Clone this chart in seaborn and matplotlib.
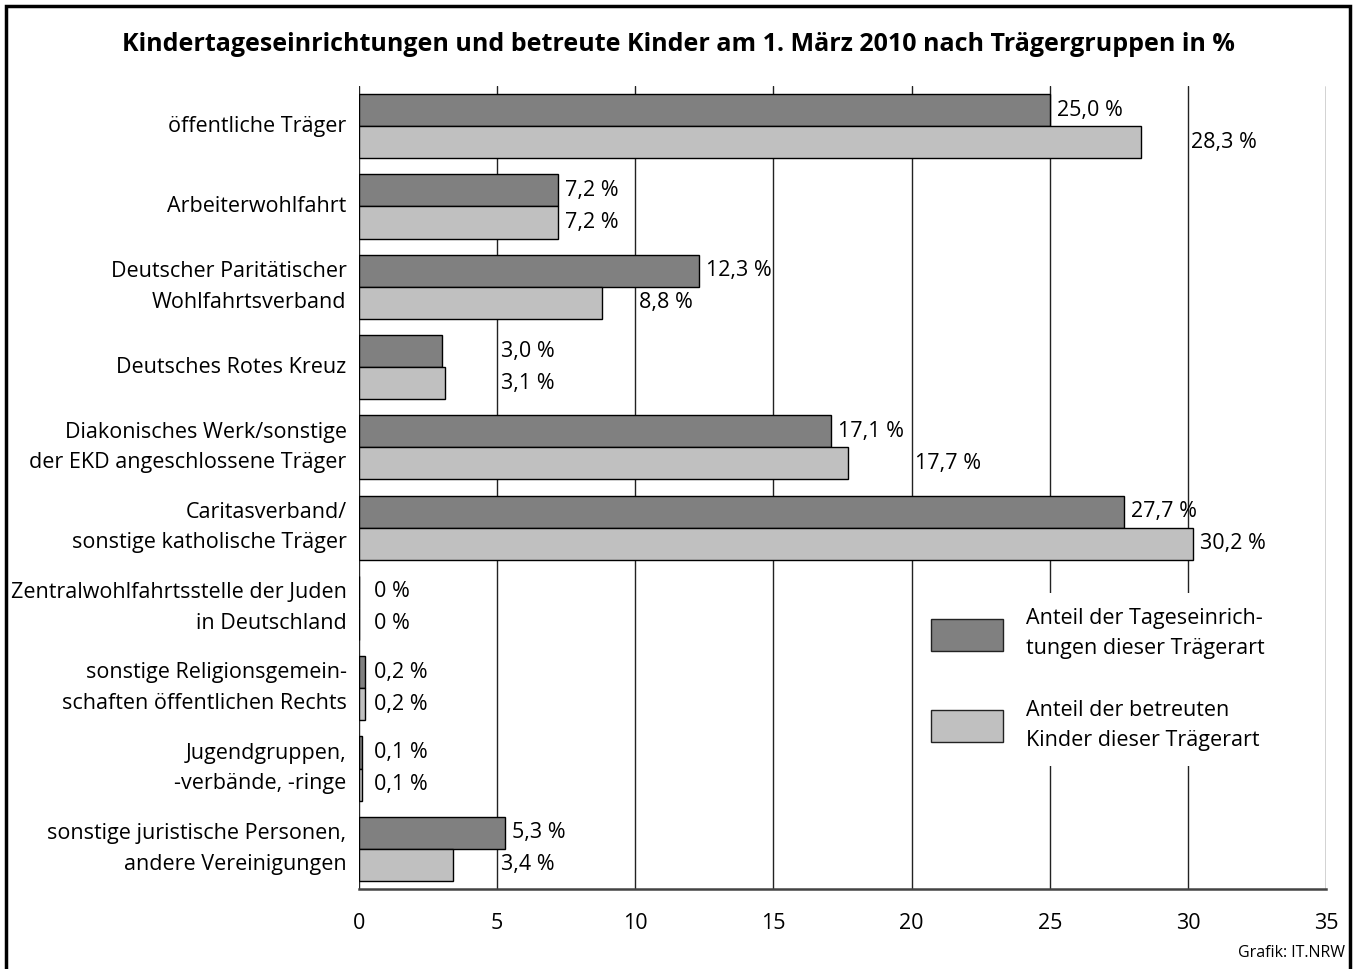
import pandas as pd
import matplotlib.pyplot as plt
import seaborn as sns

# Daten: Anteile nach Traegergruppen (1. Maerz 2010)
traeger = [
    "öffentliche Träger",
    "Arbeiterwohlfahrt",
    "Deutscher Paritätischer\nWohlfahrtsverband",
    "Deutsches Rotes Kreuz",
    "Diakonisches Werk/sonstige\nder EKD angeschlossene Träger",
    "Caritasverband/\nsonstige katholische Träger",
    "Zentralwohlfahrtsstelle der Juden\nin Deutschland",
    "sonstige Religionsgemein-\nschaften öffentlichen Rechts",
    "Jugendgruppen,\n-verbände, -ringe",
    "sonstige juristische Personen,\nandere Vereinigungen",
]
einrichtungen = [25.0, 7.2, 12.3, 3.0, 17.1, 27.7, 0.0, 0.2, 0.1, 5.3]
kinder = [28.3, 7.2, 8.8, 3.1, 17.7, 30.2, 0.0, 0.2, 0.1, 3.4]
reihen = ["Anteil der Tageseinrich-\ntungen dieser Trägerart",
          "Anteil der betreuten\nKinder dieser Trägerart"]
x_ticks = [0, 5, 10, 15, 20, 25, 30, 35]

df = pd.DataFrame({
    "traeger": traeger * 2,
    "wert": einrichtungen + kinder,
    "reihe": [reihen[0]] * len(traeger) + [reihen[1]] * len(traeger),
})

sns.set_theme(style="white")
plt.rcParams['font.family'] = ['Open Sans', 'DejaVu Sans']
plt.rcParams['text.color'] = 'black'
plt.rcParams['xtick.color'] = 'black'
plt.rcParams['ytick.color'] = 'black'

FS = 15.5
fig = plt.figure(figsize=(13.56, 9.69), dpi=100)
ax = fig.add_axes([0.2648, 0.0826, 0.9779 - 0.2648, 0.9112 - 0.0826])

sns.barplot(data=df, x="wert", y="traeger", hue="reihe", orient="h",
            palette=["#808080", "#c0c0c0"], width=0.8, edgecolor="black",
            linewidth=1.0, ax=ax, zorder=3)

ax.set_xlim(0, 35)
ax.set_ylim(len(traeger) - 0.5, -0.5)
ax.set_xticks(x_ticks)
ax.set_xticklabels([str(t) for t in x_ticks], fontsize=FS)
ax.set_yticks(range(len(traeger)))
ax.set_yticklabels(traeger, fontsize=FS, linespacing=1.6, va="center")
ax.set_xlabel("")
ax.set_ylabel("")

# Gitterlinien
for t in x_ticks:
    ax.axvline(t, color="#222222", linewidth=1.0, zorder=1)

for s in ["top", "right", "left"]:
    ax.spines[s].set_visible(False)
ax.spines["bottom"].set_color("#444444")
ax.spines["bottom"].set_linewidth(1.8)
ax.tick_params(axis="x", direction="out", length=9, width=1.5, color="#222222", pad=8)
ax.tick_params(axis="y", length=0, pad=9)

# Wertbeschriftungen, an Gitterlinien ausweichen
for i, (serie, breite) in enumerate([(einrichtungen, 1.9), (kinder, 2.2)]):
    for j, v in enumerate(serie):
        x = max(v + 0.25, 0.55)
        for g in x_ticks:
            if x < g < x + breite:
                x = g + 0.12
                break
        y = j - 0.2 + i * 0.4
        txt = f"{v:.1f}".replace(".", ",") + " %" if v > 0 else "0 %"
        ax.text(x, y, txt, fontsize=FS, va="center", ha="left", zorder=4)

leg = ax.legend(loc="upper left", bbox_to_anchor=(0.565, 0.382), fontsize=FS,
                frameon=True, facecolor="white", edgecolor="none", framealpha=1,
                handlelength=3.35, handleheight=1.9, handletextpad=1.05,
                labelspacing=1.9, borderpad=0.7, fancybox=False)
leg.set_zorder(5)
for h in leg.legend_handles:
    h.set_edgecolor("#222222")
for t in leg.get_texts():
    t.set_linespacing(1.55)

fig.text(0.5, 0.954, "Kindertageseinrichtungen und betreute Kinder am 1. März 2010 nach Trägergruppen in %",
         ha="center", va="center", fontsize=18, fontweight="bold")
fig.text(0.992, 0.017, "Grafik: IT.NRW", ha="right", va="center", fontsize=11.5)

# Rahmen um die Grafik
rahmen = plt.Rectangle((6 / 1356, -0.05), (1350 - 6) / 1356, 1.05 - 6 / 969,
                       transform=fig.transFigure, fill=False, edgecolor="black",
                       linewidth=2.5)
fig.patches.append(rahmen)

fig.savefig("out.png", dpi=100)
